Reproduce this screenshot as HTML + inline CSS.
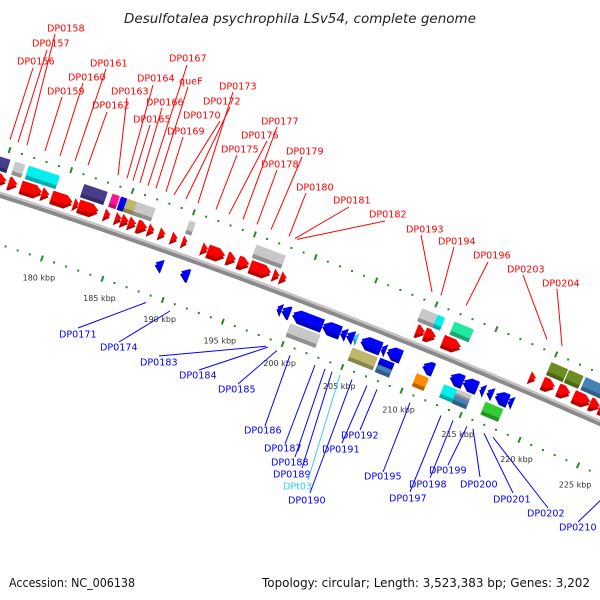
<!DOCTYPE html>
<html><head><meta charset="utf-8"><style>
html,body{margin:0;padding:0;background:#fff;width:600px;height:600px;overflow:hidden}
svg{display:block;font-family:"DejaVu Sans","Liberation Sans",sans-serif}
</style></head><body>
<svg id="chart" width="600" height="600" viewBox="0 0 600 600">
<text x="300" y="23" text-anchor="middle" font-size="13" font-style="italic" fill="#222" textLength="352" lengthAdjust="spacingAndGlyphs">Desulfotalea psychrophila LSv54, complete genome</text>
<text x="9" y="587" font-size="12" fill="#111" textLength="126" lengthAdjust="spacingAndGlyphs">Accession: NC_006138</text>
<text x="590" y="587" text-anchor="end" font-size="12" fill="#111" textLength="328" lengthAdjust="spacingAndGlyphs">Topology: circular; Length: 3,523,383 bp; Genes: 3,202</text>
<g id="ticks"></g><g id="backbone"></g><g id="genes"></g><g id="labels"></g>
</svg>
<script>
// ---- data ----
const tickKbp = [175,176,177,178,179,180,181,182,183,184,185,186,187,188,189,190,191,192,193,194,195,196,197,198,199,200,201,202,203,204,205,206,207,208,209,210,211,212,213,214,215,216,217,218,219,220,221,222,223,224,225,226,227];
const tickLabels = ["180 kbp","185 kbp","190 kbp","195 kbp","200 kbp","205 kbp","210 kbp","215 kbp","220 kbp","225 kbp"];
const tickLabelKbp = [180,185,190,195,200,205,210,215,220,225];
const geneStart = [174.6,175.7,176.7,178.4,179.2,181.0,181.4,183.5,184.4,184.9,185.5,186.2,187.1,188.0,189.0,189.9,191.5,192.0,193.6,194.5,195.5,197.4,198.0,209.3,210.0,211.5,218.8,219.9,221.2,222.5,223.9,224.7,
 173.6,175.7,176.8,178.1,181.3,183.6,184.3,184.8,185.6,186.4,189.9,195.4,209.1,210.4,211.8,219.9,221.4,222.8,
 188.5,190.6,198.6,199.0,199.9,202.4,203.9,204.4,205.0,205.6,207.3,207.8,210.8,213.1,214.2,215.6,216.2,216.9,218.0,
 200.0,205.2,206.9,207.5,207.5,210.6,212.9,214.0,214.0,216.4];
const geneEnd = [175.5,176.4,178.4,179.0,180.9,181.4,183.0,184.0,184.9,185.5,186.1,187.0,187.6,188.5,189.5,190.3,192.0,193.4,194.3,195.4,197.2,197.9,198.5,210.0,210.9,213.0,219.3,220.9,222.2,223.9,224.7,225.6,
 175.3,176.5,178.1,179.3,183.2,184.2,184.8,185.6,186.4,187.1,190.4,197.8,210.4,211.0,213.4,221.3,222.6,225.5,
 189.1,191.3,199.0,199.7,202.4,203.9,204.4,205.0,205.3,207.3,207.7,209.0,211.7,214.2,215.4,216.0,216.7,218.0,218.4,
 202.5,206.9,207.3,208.7,208.7,211.6,214.0,215.2,215.2,217.9];
const geneStrand = [1,1,1,1,1,1,1,1,1,1,1,1,1,1,1,1,1,1,1,1,1,1,1,1,1,1,1,1,1,1,1,1,
 1,1,1,1,1,1,1,1,1,1,1,1,1,1,1,1,1,1,
 -1,-1,-1,-1,-1,-1,-1,-1,-1,-1,-1,-1,-1,-1,-1,-1,-1,-1,-1,
 -1,-1,-1,-1,-1,-1,-1,-1,-1,-1];
const geneLane = [1,1,1,1,1,1,1,1,1,1,1,1,1,1,1,1,1,1,1,1,1,1,1,1,1,1,1,1,1,1,1,1,
 2,2,2,2,2,2,2,2,2,2,2,2,2,2,2,2,2,2,
 1,1,1,1,1,1,1,1,1,1,1,1,1,1,1,1,1,1,1,
 2,2,2,2.1,2.2,2,2,2.1,2.2,2];
const geneKind = ["a","a","a","a","a","a","a","a","a","a","a","a","a","a","a","a","a","a","a","a","a","a","a","a","a","a","a","a","a","a","a","a",
 "b","b","b","b","b","b","b","b","b","b","b","b","b","b","b","b","b","b",
 "a","a","a","a","a","a","a","a","a","a","a","a","a","a","a","a","a","a","a",
 "b","b","b","b","b","b","b","b","b","b"];
const geneColor = ["#ff0000","#ff0000","#ff0000","#ff0000","#ff0000","#ff0000","#ff0000","#ff0000","#ff0000","#ff0000","#ff0000","#ff0000","#ff0000","#ff0000","#ff0000","#ff0000","#ff0000","#ff0000","#ff0000","#ff0000","#ff0000","#ff0000","#ff0000","#ff0000","#ff0000","#ff0000","#ff0000","#ff0000","#ff0000","#ff0000","#ff0000","#ff0000",
 "#483d8b","#c8c8c8","#00f0f0","#00f0f0","#483d8b","#ff1493","#0000ff","#bdb76b","#c8c8c8","#c8c8c8","#c8c8c8","#c8c8c8","#c8c8c8","#00f0f0","#20e8a0","#6b8e23","#6b8e23","#4682b4",
 "#0000ff","#0000ff","#0000ff","#0000ff","#0000ff","#0000ff","#0000ff","#0000ff","#33ccff","#0000ff","#0000ff","#0000ff","#0000ff","#0000ff","#0000ff","#0000ff","#0000ff","#0000ff","#0000ff",
 "#c8c8c8","#bdb76b","#bdb76b","#0000ff","#4682b4","#ff8c00","#00f0f0","#c8c8c8","#4682b4","#32cd32"];
const topNames = ["DP0156","DP0157","DP0158","DP0159","DP0160","DP0161","DP0162","DP0163","DP0164","DP0165","DP0166","DP0167","queF","DP0169","DP0170","DP0172","DP0173","DP0175","DP0176","DP0177","DP0178","DP0179","DP0180","DP0181","DP0182","DP0193","DP0194","DP0196","DP0203","DP0204"];
const topTx = [17,32,47,47,68,90,92,111,137,133,146,169,179,167,183,203,219,221,241,261,261,286,296,333,369,406,438,473,507,542];
const topTy = [61,43,28,91,77,63,105,91,78,119,102,58,81,131,115,101,86,149,135,121,164,151,187,200,214,229,241,255,269,283];
const topSx = [33,47,55,62,83,106,107,127,153,150,162,187,188,183,220,230,233,237,267,277,277,302,306,349,385,421,454,488,523,557];
const topSy = [68,50,34,97,83,69,112,98,85,125,108,65,87,137,121,107,92,155,141,127,170,157,193,207,221,235,247,262,275,289];
const topEx = [10,18,27,45,60,75,88,118,127,133,140,148,156,166,174,186,198,216,229,243,257,271,289,295,297,432,441,466,547,562];
const botNames = ["DP0171","DP0174","DP0183","DP0184","DP0185","DP0186","DP0187","DP0188","DP0189","DPt03","DP0190","DP0191","DP0192","DP0195","DP0197","DP0198","DP0199","DP0200","DP0201","DP0202","DP0210"];
const botTx = [59,100,140,179,218,244,264,271,273,283,288,322,341,364,389,409,429,460,493,527,559];
const botTy = [334,347,362,375,389,430,448,462,474,486,500,449,435,476,498,484,470,484,499,513,527];
const botSx = [78,119,159,199,238,265,285,295,302,308,310,342,360,383,410,430,448,480,513,548,578];
const botSy = [328,342,356,370,384,426,444,457,468,480,493,443,430,472,492,478,465,477,493,508,522];
const botEx = [146,170,266,268,277,290,315,325,332,340,352,367,377,410,441,453,467,473,484,493,612];

// ---- geometry ----
const CX=-1848, CY=5953, R0=6048;
function P(k,r){const f=(18.36+(k-180)*0.122)*Math.PI/180;return [CX+r*Math.sin(f), CY-r*Math.cos(f)];}
function yAt(x,r){return CY-Math.sqrt(r*r-(x-CX)*(x-CX));}
const NS="http://www.w3.org/2000/svg";
function mk(tag,attrs,parent){const e=document.createElementNS(NS,tag);for(const a in attrs)e.setAttribute(a,attrs[a]);parent.appendChild(e);return e;}
function pts(a){return a.map(p=>p[0].toFixed(1)+","+p[1].toFixed(1)).join(" ");}
function dark(c){const n=parseInt(c.slice(1),16);const f=v=>Math.round(v*0.72);return "rgb("+f(n>>16)+","+f((n>>8)&255)+","+f(n&255)+")";}

// backbone
const bb=document.getElementById("backbone");
function arcPath(r){let d="";for(let k=172;k<=230;k+=0.5){const p=P(k,r);d+=(d?"L":"M")+p[0].toFixed(1)+","+p[1].toFixed(1);}return d;}
const bb1=mk("path",{d:arcPath(R0-1.5),stroke:"#8a8a8a","stroke-width":4,fill:"none"},bb);


const bb2=mk("path",{d:arcPath(R0+1.5),stroke:"#c4c4c4","stroke-width":2.5,fill:"none"},bb);



// ticks
const tg=document.getElementById("ticks");
[R0+45,R0-48].forEach((r,ti)=>{
 tickKbp.forEach(k=>{
  let el;
  if(k%5===0){const a=P(k,r-3),b=P(k,r+3);el=mk("line",{x1:a[0],y1:a[1],x2:b[0],y2:b[1],stroke:"#228b22","stroke-width":2},tg);}
  else{const c=P(k,r);el=mk("rect",{x:c[0]-1,y:c[1]-1,width:2,height:2,fill:"#228b22"},tg);}
  
  
 });
});
tickLabelKbp.forEach((k,i)=>{
 const c=P(k,R0-48);
 const t=mk("text",{x:c[0]-3,y:c[1]+22,"text-anchor":"middle","font-size":8,fill:"#333"},tg);
 t.textContent=tickLabels[i];
 
 
});

// genes
const gg=document.getElementById("genes");
function shape(s,e,str,rc,h,kind){
 if(kind==="b")return [P(s,rc+h),P(e,rc+h),P(e,rc-h),P(s,rc-h)];
 const head=Math.min(0.55,e-s);
 if(str>0)return [P(s,rc+h),P(e-head,rc+h),P(e,rc),P(e-head,rc-h),P(s,rc-h)];
 return [P(e,rc+h),P(s+head,rc+h),P(s,rc),P(s+head,rc-h),P(e,rc-h)];
}
geneStart.forEach((s,i)=>{
 const e=geneEnd[i],str=geneStrand[i],lane=geneLane[i];
 let rc,h=6;
 const base=Math.floor(lane);
 rc = R0 + str*(base===1?15:31);
 if(lane>base+0.05){h=3.2;rc += (lane>base+0.15?-3.5:3.5);}
 const g=mk("g",{},gg);
 
 
 const side=mk("polygon",{points:pts(shape(s,e,str,rc-3,h,geneKind[i])),fill:dark(geneColor[i])},g);
 
 
 const face=mk("polygon",{points:pts(shape(s,e,str,rc,h-1,geneKind[i])),fill:geneColor[i]},g);
 
 
});

// labels
const lg=document.getElementById("labels");
function addLabel(name,tx,ty,sx,sy,ex,r,color){
 const ln=mk("line",{x1:sx,y1:sy,x2:ex,y2:yAt(ex,r).toFixed(1),stroke:color,"stroke-width":1},lg);
 
 
 const t=mk("text",{x:tx,y:ty+3.5,"font-size":9.6,fill:color},lg);
 t.textContent=name;
 
 
}
topNames.forEach((n,i)=>addLabel(n,topTx[i],topTy[i],topSx[i],topSy[i],topEx[i],R0+55,"#ff0000"));
botNames.forEach((n,i)=>addLabel(n,botTx[i],botTy[i],botSx[i],botSy[i],botEx[i],R0-56,n==="DPt03"?"#33ccff":"#0000ff"));
</script>
</body></html>
